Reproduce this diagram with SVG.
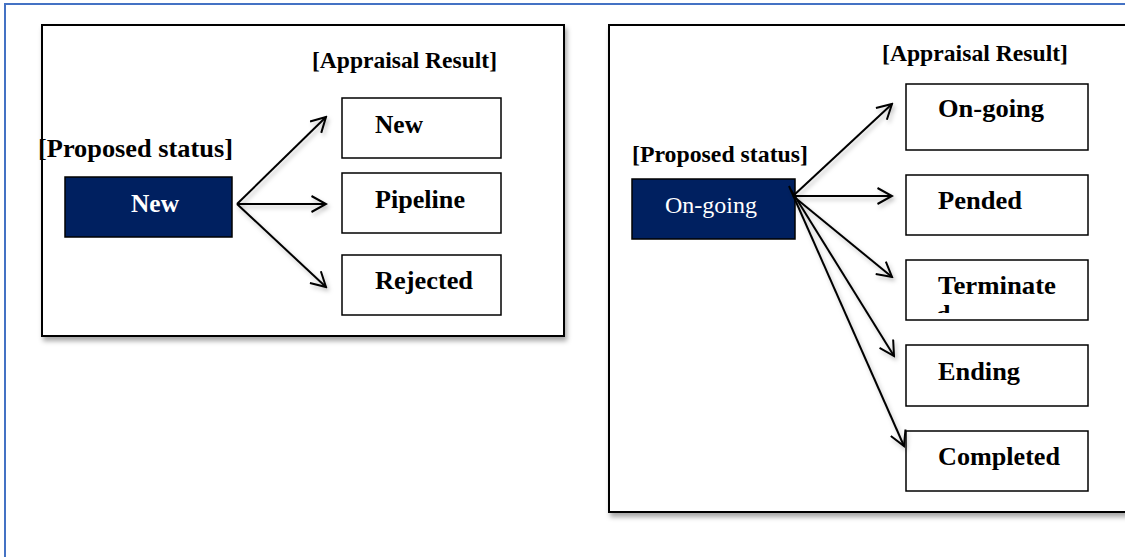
<svg xmlns="http://www.w3.org/2000/svg" width="1125" height="557" viewBox="0 0 1125 557">
  <defs>
    <filter id="shadow" x="-10%" y="-10%" width="130%" height="130%">
      <feDropShadow dx="2" dy="4" stdDeviation="2.5" flood-color="#000" flood-opacity="0.35"/>
    </filter>
    <filter id="lineShadow" x="-20%" y="-20%" width="140%" height="140%">
      <feDropShadow dx="2" dy="3" stdDeviation="2" flood-color="#000" flood-opacity="0.25"/>
    </filter>
    <marker id="open" viewBox="0 0 18 18" refX="16" refY="9" markerWidth="18" markerHeight="18" markerUnits="userSpaceOnUse" orient="auto">
      <path d="M1.5,1 L16,9 L1.5,17" fill="none" stroke="#000" stroke-width="2"/>
    </marker>
    <clipPath id="termClip">
      <rect x="907" y="261" width="180" height="52"/>
    </clipPath>
    <style>
      .frame { fill: #fff; stroke: #000; stroke-width: 2; }
      .state { fill: #002060; stroke: #000; stroke-width: 1.5; }
      .result { fill: #fff; stroke: #000; stroke-width: 1.5; }
      .label { font-family: "Liberation Serif", "Times New Roman", serif; font-weight: bold; font-size: 26px; fill: #000; }
      .head { font-family: "Liberation Serif", "Times New Roman", serif; font-weight: bold; font-size: 24px; fill: #000; }
      .light { font-family: "Liberation Serif", "Times New Roman", serif; font-size: 24px; fill: #fff; }
      .bold-light { font-family: "Liberation Serif", "Times New Roman", serif; font-weight: bold; font-size: 25px; fill: #fff; }
      .link { fill: none; stroke: #000; stroke-width: 2; marker-end: url(#open); }
    </style>
  </defs>

  <rect width="1125" height="557" fill="#fff"/>

  <!-- page border -->
  <path d="M5,557 L5,4 L1125,4" fill="none" stroke="#4472C4" stroke-width="2"/>

  <!-- left panel: new proposals -->
  <g id="panel-new">
    <rect class="frame" x="42" y="25" width="522" height="311" filter="url(#shadow)"/>
    <text class="label" x="38" y="157" textLength="195" lengthAdjust="spacingAndGlyphs">[Proposed status]</text>
    <text class="head" x="312" y="68" textLength="185" lengthAdjust="spacingAndGlyphs">[Appraisal Result]</text>
  </g>
  <g id="state-new">
    <rect class="state" x="65" y="177" width="167" height="60"/>
    <text class="bold-light" x="131" y="212" textLength="48" lengthAdjust="spacingAndGlyphs">New</text>
  </g>
  <g id="result-new">
    <rect class="result" x="342" y="98" width="159" height="60"/>
    <text class="label" x="375" y="133" textLength="48" lengthAdjust="spacingAndGlyphs">New</text>
  </g>
  <g id="result-pipeline">
    <rect class="result" x="342" y="173" width="159" height="60"/>
    <text class="label" x="375" y="208" textLength="90" lengthAdjust="spacingAndGlyphs">Pipeline</text>
  </g>
  <g id="result-rejected">
    <rect class="result" x="342" y="255" width="159" height="60"/>
    <text class="label" x="375" y="289" textLength="98" lengthAdjust="spacingAndGlyphs">Rejected</text>
  </g>

  <!-- right panel: on-going proposals -->
  <g id="panel-ongoing">
    <rect class="frame" x="609" y="25" width="530" height="487" filter="url(#shadow)"/>
    <text class="head" x="632" y="162" textLength="176" lengthAdjust="spacingAndGlyphs">[Proposed status]</text>
    <text class="head" x="882" y="61" textLength="186" lengthAdjust="spacingAndGlyphs">[Appraisal Result]</text>
  </g>
  <g id="state-ongoing">
    <rect class="state" x="632" y="179" width="163" height="60"/>
    <text class="light" x="665" y="213" textLength="92" lengthAdjust="spacingAndGlyphs">On-going</text>
  </g>
  <g id="result-ongoing">
    <rect class="result" x="906" y="84" width="182" height="66"/>
    <text class="label" x="938" y="117" textLength="106" lengthAdjust="spacingAndGlyphs">On-going</text>
  </g>
  <g id="result-pended">
    <rect class="result" x="906" y="175" width="182" height="60"/>
    <text class="label" x="938" y="209" textLength="84" lengthAdjust="spacingAndGlyphs">Pended</text>
  </g>
  <g id="result-terminated">
    <rect class="result" x="906" y="260" width="182" height="60"/>
    <g clip-path="url(#termClip)">
      <text class="label" x="938" y="294" textLength="118" lengthAdjust="spacingAndGlyphs">Terminate</text>
      <text class="label" x="936" y="323">d</text>
    </g>
  </g>
  <g id="result-ending">
    <rect class="result" x="906" y="345" width="182" height="61"/>
    <text class="label" x="938" y="380" textLength="82" lengthAdjust="spacingAndGlyphs">Ending</text>
  </g>
  <g id="result-completed">
    <rect class="result" x="906" y="431" width="182" height="60"/>
    <text class="label" x="938" y="465" textLength="122" lengthAdjust="spacingAndGlyphs">Completed</text>
  </g>

  <!-- connectors -->
  <g id="connectors" filter="url(#lineShadow)">
    <line class="link" x1="237" y1="204" x2="326" y2="117"/>
    <line class="link" x1="237" y1="204" x2="326" y2="204"/>
    <line class="link" x1="237" y1="204" x2="326" y2="287"/>

    <line class="link" x1="793" y1="196" x2="892" y2="104"/>
    <line class="link" x1="793" y1="196" x2="892" y2="196"/>
    <line class="link" x1="793" y1="196" x2="892" y2="277"/>
    <line class="link" x1="791" y1="190" x2="894" y2="356"/>
    <line class="link" x1="789" y1="186" x2="904" y2="446"/>
  </g>
</svg>
